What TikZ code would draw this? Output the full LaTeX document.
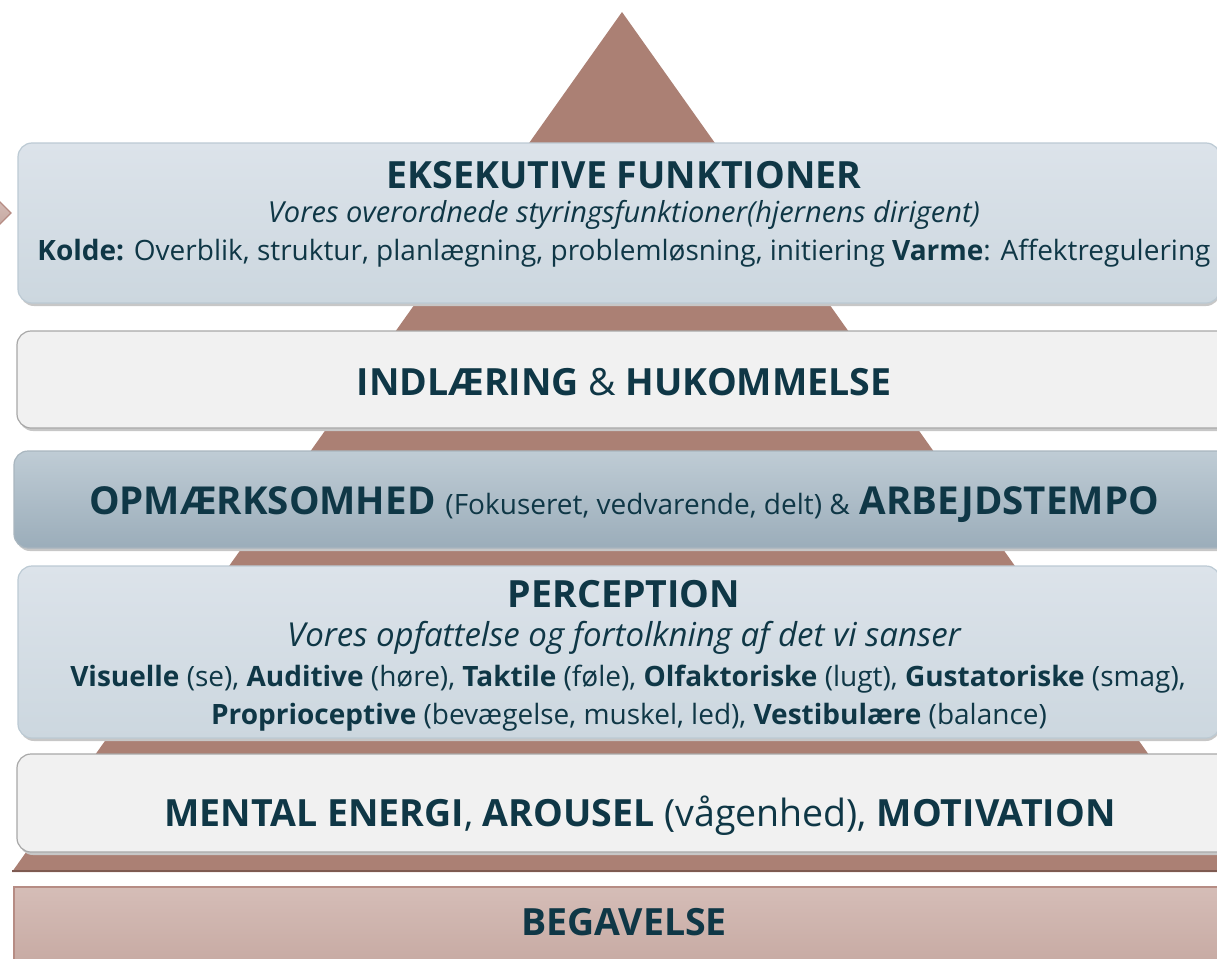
\documentclass[tikz,border=0pt]{standalone}
\usepackage{fontspec}
\setmainfont{Open Sans}
\usepackage{xcolor}

\definecolor{tekst}{HTML}{0F3746}
\definecolor{pyramide}{HTML}{AB8074}
\definecolor{pyrkant}{HTML}{7E5A51}
\definecolor{blaatop}{HTML}{DCE3EA}
\definecolor{blaabund}{HTML}{CCD7DF}
\definecolor{blaarand}{HTML}{BCCAD4}
\definecolor{moerktop}{HTML}{BFCCD5}
\definecolor{moerkbund}{HTML}{9BADBA}
\definecolor{hvidfyld}{HTML}{F1F1F1}
\definecolor{hvidrand}{HTML}{A8A8A8}
\definecolor{grundtop}{HTML}{D5BDB7}
\definecolor{grundbund}{HTML}{C5A7A0}
\definecolor{grundrand}{HTML}{B68C84}

\tikzset{
	lag/.style={rounded corners=14pt, line width=1.2pt},
	skygge/.style={rounded corners=14pt, fill=black!22},
	blaaboks/.style={lag, draw=blaarand, top color=blaatop, bottom color=blaabund},
	moerkboks/.style={lag, draw=blaarand!90!black, top color=moerktop, bottom color=moerkbund},
	hvidboks/.style={lag, draw=hvidrand, fill=hvidfyld},
	grundboks/.style={line width=1.2pt, draw=grundrand, top color=grundtop, bottom color=grundbund},
	titel/.style={text=tekst, anchor=base, inner sep=0pt, font=\bfseries\fontsize{37.5}{44}\selectfont},
	kursiv/.style={text=tekst, anchor=base, inner sep=0pt, font=\itshape\fontsize{29}{34}\selectfont},
	brod/.style={text=tekst, anchor=base, inner sep=0pt, font=\fontsize{28}{33}\selectfont},
}

\begin{document}
\begin{tikzpicture}[x=1pt, y=-1pt]
		\def\midt{624};
		\def\hojre{1220};

		\useasboundingbox (0,0) rectangle (1217,958);

		\begin{scope}
			\fill[pyramide] (622,12) -- (12,872) -- (1232,872) -- cycle;
			\draw[pyrkant, line width=2.5pt] (12,871) -- (1232,871);
			\draw[grundboks] (11,213) -- (-5,197) -- (-21,213) -- (-5,229) -- cycle;
		\end{scope}

		\begin{scope}
			\fill[skygge] (20,146) rectangle (\hojre,306);
			\draw[blaaboks] (18,143) rectangle (\hojre,303);
			\fill[skygge] (19,334) rectangle (1240,431);
			\draw[hvidboks] (17,331) rectangle (1240,428);
			\fill[skygge] (16,454) rectangle (1240,551);
			\draw[moerkboks] (14,451) rectangle (1240,548);
			\fill[skygge] (20,569) rectangle (\hojre,741);
			\draw[blaaboks] (18,566) rectangle (\hojre,738);
			\fill[skygge] (19,757) rectangle (1260,855);
			\draw[hvidboks] (17,754) rectangle (1260,852);
			\draw[grundboks] (14,887) rectangle (1240,975);
		\end{scope}

		\node[titel] (eksekutiv) at (\midt,188) {EKSEKUTIVE FUNKTIONER};
		\node[kursiv] (dirigent) at (\midt,222) {Vores overordnede styringsfunktioner(hjernens dirigent)};
		\node[brod] (kolde) at (\midt,260) {\textbf{Kolde:} Overblik, struktur, planlægning, problemløsning, initiering \textbf{Varme}: Affektregulering};

		\node[titel] (indlaering) at (\midt,395) {INDLÆRING {\mdseries\&} HUKOMMELSE};

		\node[titel, font=\bfseries\fontsize{38.5}{44}\selectfont] (opmaerksomhed) at (\midt,514) {OPMÆRKSOMHED {\mdseries\fontsize{28}{33}\selectfont (Fokuseret, vedvarende, delt) \&} ARBEJDSTEMPO};

		\node[titel] (perception) at (\midt,607) {PERCEPTION};
		\node[kursiv, font=\itshape\fontsize{33}{38}\selectfont] (opfattelse) at (\midt,646) {Vores opfattelse og fortolkning af det vi sanser};
		\node[brod] (sanser) at (\midt+4,686) {\textbf{Visuelle} (se), \textbf{Auditive} (høre), \textbf{Taktile} (føle), \textbf{Olfaktoriske} (lugt), \textbf{Gustatoriske} (smag),};
		\node[brod] (proprio) at (\midt+5,724) {\textbf{Proprioceptive} (bevægelse, muskel, led), \textbf{Vestibulære} (balance)};

		\node[titel] (energi) at (640,826) {MENTAL ENERGI{\mdseries,} AROUSEL {\mdseries(vågenhed),} MOTIVATION};

		\node[titel] (begavelse) at (\midt,935) {BEGAVELSE};
	\end{tikzpicture}
\end{document}
